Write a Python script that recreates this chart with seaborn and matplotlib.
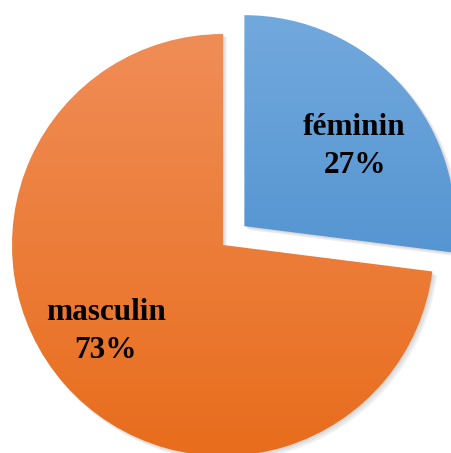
import numpy as np
import matplotlib
matplotlib.use("Agg")
import matplotlib.pyplot as plt
from matplotlib.colors import LinearSegmentedColormap
from matplotlib.patches import Wedge
import seaborn as sns

sns.set_theme(style="white")
plt.rcParams["font.family"] = ["Liberation Serif", "DejaVu Serif"]

categories = ["féminin", "masculin"]
shares = [27, 73]
explode = [0.135, 0.0]
top_colors = ["#72a9dd", "#f08d57"]
bottom_colors = ["#3f86c9", "#e86d1c"]

# label placement (radial distance and angular nudge, in degrees)
label_dist = [0.645, 0.69]
label_nudge = [-5.5, -5.0]

fig = plt.figure(figsize=(4.51, 4.53), dpi=100)
ax = fig.add_axes([0, 0, 1, 1])

labels = [f"{c}\n{p}%" for c, p in zip(categories, shares)]
wedges, texts = ax.pie(
    shares, labels=labels, explode=explode, startangle=90, counterclock=False,
    labeldistance=0.66, radius=1.0,
    wedgeprops=dict(linewidth=0, edgecolor="none"),
    textprops=dict(fontsize=22.5, fontweight="bold", color="black",
                   linespacing=1.42),
)

# soft drop shadow plus vertical gradient fill for each slice
for w, c0, c1 in zip(wedges, top_colors, bottom_colors):
    for k, a in enumerate([0.05, 0.05, 0.06]):
        off = 0.006 * (k + 1)
        sh = Wedge((w.center[0] + off, w.center[1] - off), w.r + 0.002 * k,
                   w.theta1, w.theta2, facecolor="black", alpha=a,
                   linewidth=0, zorder=0.5)
        ax.add_patch(sh)
    w.set_facecolor("none")
    cmap = LinearSegmentedColormap.from_list("g", [c0, c1])
    grad = np.linspace(0, 1, 256).reshape(-1, 1)
    cx, cy = w.center
    im = ax.imshow(grad, cmap=cmap, aspect="auto",
                   extent=(cx - w.r, cx + w.r, cy - w.r, cy + w.r),
                   origin="upper", zorder=1)
    im.set_clip_path(w)

for w, t, d, n in zip(wedges, texts, label_dist, label_nudge):
    ang = np.deg2rad((w.theta1 + w.theta2) / 2 + n)
    cx, cy = w.center
    t.set_position((cx + d * w.r * np.cos(ang), cy + d * w.r * np.sin(ang)))
    t.set_horizontalalignment("center")
    t.set_verticalalignment("center")
    t.set_zorder(3)

ax.set_xlim(-1.0569, 1.0806)
ax.set_ylim(-0.9858, 1.1611)
ax.set_aspect("equal")
ax.axis("off")

fig.savefig("out.png", dpi=100)
